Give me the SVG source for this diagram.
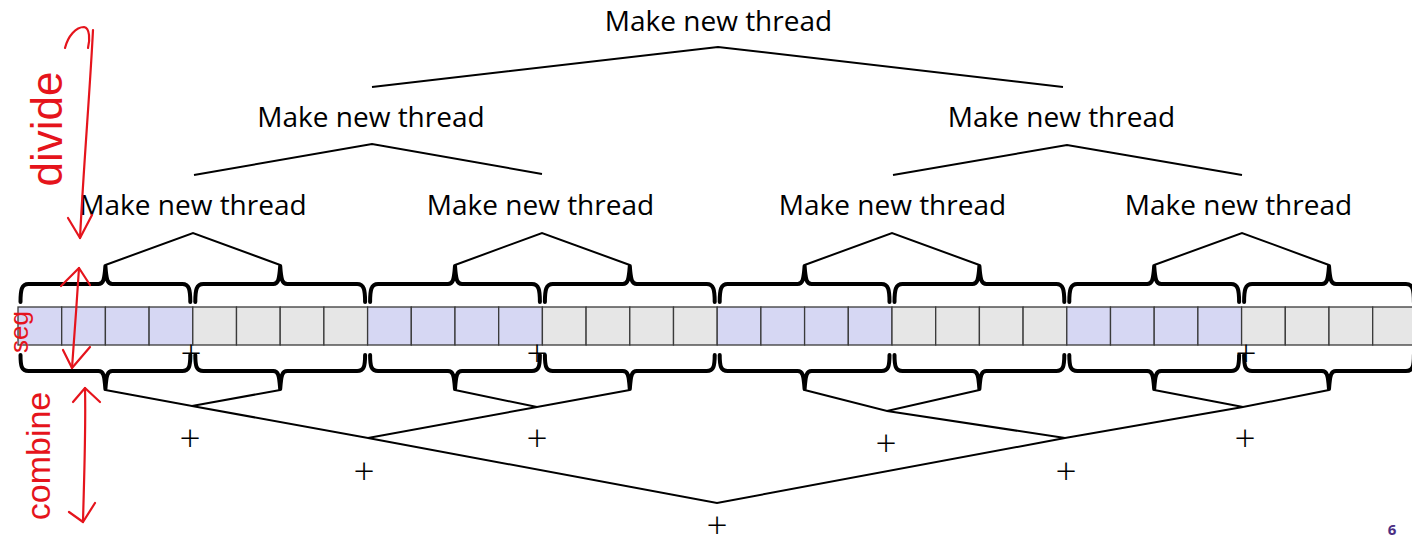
<svg xmlns="http://www.w3.org/2000/svg" width="1412" height="547" viewBox="0 0 1412 547">
  <style>
    .lbl { font-family: "Open Sans", "Noto Sans", sans-serif; font-size: 28px; fill: #000; text-anchor: middle; }
    .plus { font-family: "Open Sans", "Noto Sans", sans-serif; font-size: 37px; font-weight: 300; fill: #000; text-anchor: middle; }
    .cellA { fill: #D6D7F3; stroke: #3a3a3a; stroke-width: 1.3; }
    .cellB { fill: #E6E6E6; stroke: #3a3a3a; stroke-width: 1.3; }
    .brace { fill: none; stroke: #000; stroke-width: 4; stroke-linejoin: round; stroke-linecap: round; }
    .edge { fill: none; stroke: #000; stroke-width: 2; stroke-linejoin: miter; }
    .ink { fill: none; stroke: #E5141C; stroke-width: 2.2; stroke-linecap: round; stroke-linejoin: round; }
    .inktxt { font-family: "Liberation Sans", "DejaVu Sans", sans-serif; fill: #E5141C; text-anchor: middle; }
    .pg { font-family: "Open Sans", "Noto Sans", sans-serif; font-size: 15px; font-weight: 700; fill: #4B2E83; text-anchor: middle; }
  </style>

  <!-- array of 32 cells, 8 segments of 4 -->
  <g id="array">
    <rect class="cellA" x="18" y="307" width="43.7" height="38"/>
    <rect class="cellA" x="61.7" y="307" width="43.7" height="38"/>
    <rect class="cellA" x="105.4" y="307" width="43.7" height="38"/>
    <rect class="cellA" x="149.1" y="307" width="43.7" height="38"/>
    <rect class="cellB" x="192.8" y="307" width="43.7" height="38"/>
    <rect class="cellB" x="236.5" y="307" width="43.7" height="38"/>
    <rect class="cellB" x="280.2" y="307" width="43.7" height="38"/>
    <rect class="cellB" x="323.9" y="307" width="43.7" height="38"/>
    <rect class="cellA" x="367.6" y="307" width="43.7" height="38"/>
    <rect class="cellA" x="411.3" y="307" width="43.7" height="38"/>
    <rect class="cellA" x="455" y="307" width="43.7" height="38"/>
    <rect class="cellA" x="498.7" y="307" width="43.7" height="38"/>
    <rect class="cellB" x="542.4" y="307" width="43.7" height="38"/>
    <rect class="cellB" x="586.1" y="307" width="43.7" height="38"/>
    <rect class="cellB" x="629.8" y="307" width="43.7" height="38"/>
    <rect class="cellB" x="673.5" y="307" width="43.7" height="38"/>
    <rect class="cellA" x="717.2" y="307" width="43.7" height="38"/>
    <rect class="cellA" x="760.9" y="307" width="43.7" height="38"/>
    <rect class="cellA" x="804.6" y="307" width="43.7" height="38"/>
    <rect class="cellA" x="848.3" y="307" width="43.7" height="38"/>
    <rect class="cellB" x="892" y="307" width="43.7" height="38"/>
    <rect class="cellB" x="935.7" y="307" width="43.7" height="38"/>
    <rect class="cellB" x="979.4" y="307" width="43.7" height="38"/>
    <rect class="cellB" x="1023.1" y="307" width="43.7" height="38"/>
    <rect class="cellA" x="1066.8" y="307" width="43.7" height="38"/>
    <rect class="cellA" x="1110.5" y="307" width="43.7" height="38"/>
    <rect class="cellA" x="1154.2" y="307" width="43.7" height="38"/>
    <rect class="cellA" x="1197.9" y="307" width="43.7" height="38"/>
    <rect class="cellB" x="1241.6" y="307" width="43.7" height="38"/>
    <rect class="cellB" x="1285.3" y="307" width="43.7" height="38"/>
    <rect class="cellB" x="1329" y="307" width="43.7" height="38"/>
    <rect class="cellB" x="1372.7" y="307" width="43.7" height="38"/>
  </g>

  <!-- curly braces above the segments -->
  <g id="braces-top">
    <path class="brace" d="M20.5,302 C20.5,290 21.5,284 28.5,284 L98.4,284 C103.4,284 104.4,280 105.4,266 C106.4,280 107.4,284 112.4,284 L182.3,284 C189.3,284 190.3,290 190.3,302"/>
    <path class="brace" d="M195.3,302 C195.3,290 196.3,284 203.3,284 L273.2,284 C278.2,284 279.2,280 280.2,266 C281.2,280 282.2,284 287.2,284 L357.1,284 C364.1,284 365.1,290 365.1,302"/>
    <path class="brace" d="M370.1,302 C370.1,290 371.1,284 378.1,284 L448,284 C453,284 454,280 455,266 C456,280 457,284 462,284 L531.9,284 C538.9,284 539.9,290 539.9,302"/>
    <path class="brace" d="M544.9,302 C544.9,290 545.9,284 552.9,284 L622.8,284 C627.8,284 628.8,280 629.8,266 C630.8,280 631.8,284 636.8,284 L706.7,284 C713.7,284 714.7,290 714.7,302"/>
    <path class="brace" d="M719.7,302 C719.7,290 720.7,284 727.7,284 L797.6,284 C802.6,284 803.6,280 804.6,266 C805.6,280 806.6,284 811.6,284 L881.5,284 C888.5,284 889.5,290 889.5,302"/>
    <path class="brace" d="M894.5,302 C894.5,290 895.5,284 902.5,284 L972.4,284 C977.4,284 978.4,280 979.4,266 C980.4,280 981.4,284 986.4,284 L1056.3,284 C1063.3,284 1064.3,290 1064.3,302"/>
    <path class="brace" d="M1069.3,302 C1069.3,290 1070.3,284 1077.3,284 L1147.2,284 C1152.2,284 1153.2,280 1154.2,266 C1155.2,280 1156.2,284 1161.2,284 L1231.1,284 C1238.1,284 1239.1,290 1239.1,302"/>
    <path class="brace" d="M1244.1,302 C1244.1,290 1245.1,284 1252.1,284 L1322,284 C1327,284 1328,280 1329,266 C1330,280 1331,284 1336,284 L1405.9,284 C1412.9,284 1413.9,290 1413.9,302"/>
  </g>

  <!-- curly braces below the segments -->
  <g id="braces-bottom">
    <path class="brace" d="M20.5,355 C20.5,366 21.5,371 28.5,371 L98.4,371 C103.4,371 104.4,375 105.4,389 C106.4,375 107.4,371 112.4,371 L182.3,371 C189.3,371 190.3,366 190.3,355"/>
    <path class="brace" d="M195.3,355 C195.3,366 196.3,371 203.3,371 L273.2,371 C278.2,371 279.2,375 280.2,389 C281.2,375 282.2,371 287.2,371 L357.1,371 C364.1,371 365.1,366 365.1,355"/>
    <path class="brace" d="M370.1,355 C370.1,366 371.1,371 378.1,371 L448,371 C453,371 454,375 455,389 C456,375 457,371 462,371 L531.9,371 C538.9,371 539.9,366 539.9,355"/>
    <path class="brace" d="M544.9,355 C544.9,366 545.9,371 552.9,371 L622.8,371 C627.8,371 628.8,375 629.8,389 C630.8,375 631.8,371 636.8,371 L706.7,371 C713.7,371 714.7,366 714.7,355"/>
    <path class="brace" d="M719.7,355 C719.7,366 720.7,371 727.7,371 L797.6,371 C802.6,371 803.6,375 804.6,389 C805.6,375 806.6,371 811.6,371 L881.5,371 C888.5,371 889.5,366 889.5,355"/>
    <path class="brace" d="M894.5,355 C894.5,366 895.5,371 902.5,371 L972.4,371 C977.4,371 978.4,375 979.4,389 C980.4,375 981.4,371 986.4,371 L1056.3,371 C1063.3,371 1064.3,366 1064.3,355"/>
    <path class="brace" d="M1069.3,355 C1069.3,366 1070.3,371 1077.3,371 L1147.2,371 C1152.2,371 1153.2,375 1154.2,389 C1155.2,375 1156.2,371 1161.2,371 L1231.1,371 C1238.1,371 1239.1,366 1239.1,355"/>
    <path class="brace" d="M1244.1,355 C1244.1,366 1245.1,371 1252.1,371 L1322,371 C1327,371 1328,375 1329,389 C1330,375 1331,371 1336,371 L1405.9,371 C1412.9,371 1413.9,366 1413.9,355"/>
  </g>

  <!-- tree edges: splitting (top) and combining (bottom) -->
  <g id="connectors">
    <polyline class="edge" points="372,87 718,47 1063,87"/>
    <polyline class="edge" points="194,175 372,144 542,174"/>
    <polyline class="edge" points="893,175 1067,145 1242,175"/>
    <polyline class="edge" points="105.4,265 193,233 280.2,265"/>
    <polyline class="edge" points="455,265 542,233 629.8,265"/>
    <polyline class="edge" points="804.6,265 892,233 979.4,265"/>
    <polyline class="edge" points="1154.2,265 1242,233 1329,265"/>

    <polyline class="edge" points="105.4,390 192,406 280.2,390"/>
    <polyline class="edge" points="455,390 537,407 629.8,390"/>
    <polyline class="edge" points="804.6,390 887,411 979.4,390"/>
    <polyline class="edge" points="1154.2,390 1243,407 1329,390"/>
    <polyline class="edge" points="192,406 368,438 537,407"/>
    <polyline class="edge" points="887,411 1065,438 1243,407"/>
    <polyline class="edge" points="368,438 717,503 1065,438"/>
  </g>

  <!-- thread-creation labels -->
  <g id="node-root"><text class="lbl" x="718.5" y="31">Make new thread</text></g>
  <g id="node-l"><text class="lbl" x="371" y="127">Make new thread</text></g>
  <g id="node-r"><text class="lbl" x="1061.5" y="127">Make new thread</text></g>
  <g id="node-ll"><text class="lbl" x="193" y="215">Make new thread</text></g>
  <g id="node-lr"><text class="lbl" x="540.5" y="215">Make new thread</text></g>
  <g id="node-rl"><text class="lbl" x="892.5" y="215">Make new thread</text></g>
  <g id="node-rr"><text class="lbl" x="1238.5" y="215">Make new thread</text></g>

  <!-- combine operators -->
  <g id="sum-a"><text class="plus" x="191" y="366">+</text></g>
  <g id="sum-b"><text class="plus" x="537" y="366">+</text></g>
  <g id="sum-c"><text class="plus" x="1246" y="366">+</text></g>
  <g id="sum-1"><text class="plus" x="190" y="451">+</text></g>
  <g id="sum-2"><text class="plus" x="537" y="451">+</text></g>
  <g id="sum-3"><text class="plus" x="886" y="456">+</text></g>
  <g id="sum-4"><text class="plus" x="1245" y="451">+</text></g>
  <g id="sum-5"><text class="plus" x="364" y="484">+</text></g>
  <g id="sum-6"><text class="plus" x="1066" y="484">+</text></g>
  <g id="sum-7"><text class="plus" x="717" y="538">+</text></g>

  <!-- red pen annotations -->
  <g id="annotations">
    <text class="inktxt" font-size="44" transform="translate(62,129) rotate(-90)">divide</text>
    <path class="ink" d="M65,48 C68,36 76,27 84,27 C90,28 90,40 88,48"/>
    <path class="ink" d="M93,30 C90,90 84,160 80,238"/>
    <path class="ink" d="M68,218 L80,238 L92,215"/>

    <text class="inktxt" font-size="26" transform="translate(28,332) rotate(-90)">seg</text>
    <path class="ink" d="M79,268 C77,300 74,340 72,368"/>
    <path class="ink" d="M61,286 L79,268 L90,285"/>
    <path class="ink" d="M63,350 L72,368 L90,347"/>

    <text class="inktxt" font-size="34" transform="translate(50,456) rotate(-90)">combine</text>
    <path class="ink" d="M85,388 C86,430 84,480 83,522"/>
    <path class="ink" d="M73,402 L85,388 L100,402"/>
    <path class="ink" d="M69,512 L83,522 L95,503"/>
  </g>

  <g id="page-number"><text class="pg" x="1392" y="535">6</text></g>
</svg>
